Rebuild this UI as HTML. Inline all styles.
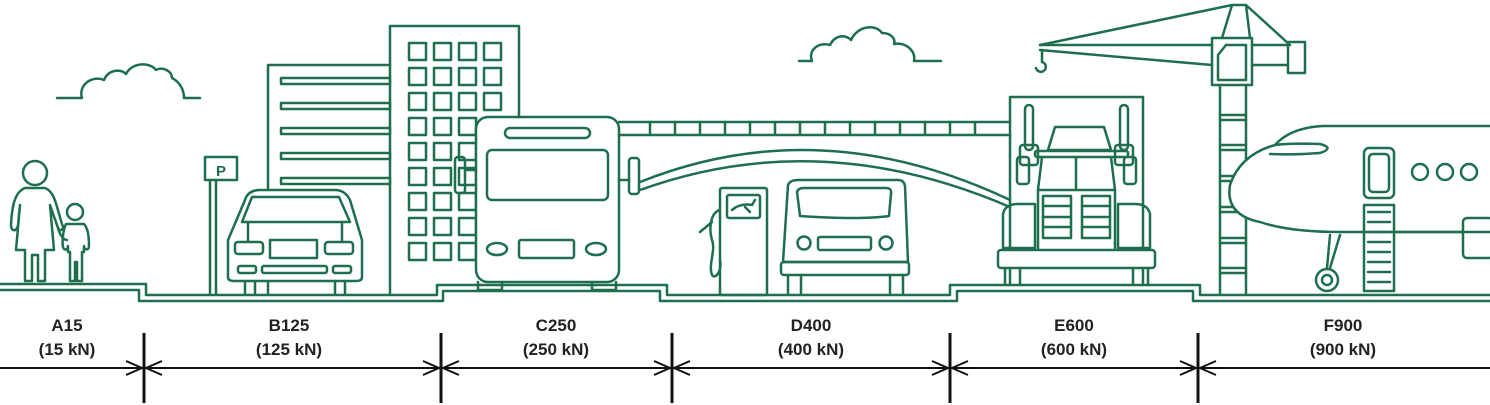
<!DOCTYPE html>
<html><head><meta charset="utf-8"><style>
html,body{margin:0;padding:0;background:#fff;width:1490px;height:405px;overflow:hidden}
svg{display:block}
.t{font-family:"Liberation Sans",sans-serif;font-weight:bold;font-size:17px;fill:#222;text-anchor:middle}
</style></head><body>
<svg width="1490" height="405" viewBox="0 0 1490 405" xmlns="http://www.w3.org/2000/svg">
<g fill="none" stroke="#1d6f4e" stroke-width="2.5" stroke-linejoin="round" stroke-linecap="round">
<!-- ground -->
<path d="M0 284H146V295H437V285H667V295H950V285H1200V295H1490"/>
<path d="M0 290H139V301H443V291H660V301H957V291H1193V301H1490"/>
<!-- clouds -->
<path d="M57 98H82C78 85 92 75 104 80C108 70 120 68 126 74C132 62 150 62 156 70C164 66 172 72 172 78C180 82 184 90 184 98H200"/>
<path d="M799 61H812C808 50 818 42 830 45C835 35 845 34 851 40C858 25 876 24 882 33C890 33 896 38 894 44C905 42 916 50 914 61H941"/>
<!-- woman -->
<circle cx="35" cy="173" r="12"/>
<path d="M25 188C15 192 12 205 11 225C11 232 17 232 18 225L20 205L16 250H25V281H32V255H38V281H45V250H54L50 205L58 228C60 232 65 230 62 224C56 205 55 192 45 188Z"/>
<!-- child -->
<circle cx="75" cy="212" r="8"/>
<path d="M66 224C63 230 62 242 63 247C64 251 68 250 68 246V252H70V281H75V262H77V281H82V252H84V246C84 250 89 251 89 246C89 238 88 228 84 224Z"/>
<path d="M58 228C60 236 64 240 67 240"/>
<!-- P sign -->
<rect x="205" y="157" width="32" height="23"/>
<text x="221" y="176" font-family="Liberation Sans,sans-serif" font-size="15" font-weight="bold" fill="#1d6f4e" stroke="none" text-anchor="middle">P</text>
<path d="M210 180V295M216 180V295"/>
<!-- building 1 -->
<path d="M268 295V65H390"/>
<g>
<rect x="281" y="78" width="109" height="6"/><rect x="281" y="103" width="109" height="6"/>
<rect x="281" y="128" width="109" height="6"/><rect x="281" y="153" width="109" height="6"/>
<rect x="281" y="178" width="109" height="6"/>
</g>
<!-- building 2 -->
<path d="M390 295V26H519V117"/>
<g>
<rect x="409" y="43" width="17" height="17"/><rect x="434" y="43" width="17" height="17"/><rect x="459" y="43" width="17" height="17"/><rect x="484" y="43" width="17" height="17"/>
<rect x="409" y="68" width="17" height="17"/><rect x="434" y="68" width="17" height="17"/><rect x="459" y="68" width="17" height="17"/><rect x="484" y="68" width="17" height="17"/>
<rect x="409" y="93" width="17" height="17"/><rect x="434" y="93" width="17" height="17"/><rect x="459" y="93" width="17" height="17"/><rect x="484" y="93" width="17" height="17"/>
<rect x="409" y="118" width="17" height="17"/><rect x="434" y="118" width="17" height="17"/><rect x="459" y="118" width="17" height="17"/>
<rect x="409" y="143" width="17" height="17"/><rect x="434" y="143" width="17" height="17"/><rect x="459" y="143" width="17" height="17"/>
<rect x="409" y="168" width="17" height="17"/><rect x="434" y="168" width="17" height="17"/><rect x="459" y="168" width="17" height="17"/>
<rect x="409" y="193" width="17" height="17"/><rect x="434" y="193" width="17" height="17"/><rect x="459" y="193" width="17" height="17"/>
<rect x="409" y="218" width="17" height="17"/><rect x="434" y="218" width="17" height="17"/><rect x="459" y="218" width="17" height="17"/>
<rect x="409" y="243" width="17" height="17"/><rect x="434" y="243" width="17" height="17"/><rect x="459" y="243" width="17" height="17"/>
</g>
<!-- car B -->
<path d="M245 200Q248 190 260 190H335Q345 190 350 200L362 240V277Q362 281 356 281H234Q228 281 228 277V240Z" fill="#fff"/>
<path d="M242 222L252 197H339L350 222Z"/>
<path d="M248 222V240M342 222V240"/>
<rect x="235" y="242" width="28" height="12" rx="3"/><rect x="270" y="240" width="47" height="18"/><rect x="325" y="242" width="28" height="12" rx="3"/>
<rect x="238" y="266" width="18" height="7" rx="2"/><rect x="262" y="266" width="65" height="7" rx="2"/><rect x="333" y="266" width="18" height="7" rx="2"/>
<path d="M245 281V295M255 281V295M335 281V295M345 281V295"/>
<!-- bridge deck -->
<path d="M619 122H1010M619 135H1010"/>
<path d="M650 122V135M675 122V135M700 122V135M725 122V135M750 122V135M775 122V135M800 122V135M825 122V135M850 122V135M875 122V135M900 122V135M925 122V135M950 122V135M975 122V135"/>
<path d="M640 182Q820 110 1010 200M640 190Q820 125 1010 207"/>
<!-- bus -->
<rect x="476" y="117" width="143" height="165" rx="12" fill="#fff"/>
<rect x="505" y="128" width="85" height="10" rx="5"/>
<rect x="487" y="150" width="121" height="50" rx="5"/>
<ellipse cx="497" cy="249" rx="10" ry="6"/><ellipse cx="596" cy="249" rx="10" ry="6"/>
<rect x="519" y="240" width="55" height="18" rx="2"/>
<path d="M478 282V290H502V282M592 282V290H616V282"/>
<rect x="455" y="157" width="10" height="36" rx="3"/><rect x="629" y="158" width="10" height="36" rx="3"/>
<path d="M465 170H476M619 180H629"/>
<!-- fuel pump -->
<rect x="720" y="188" width="47" height="107" rx="2"/>
<rect x="727" y="195" width="33" height="23" rx="2"/>
<path d="M732 210Q740 203 752 205L755 200M745 207L750 212"/>
<path d="M720 210C712 212 708 225 712 240C716 250 708 265 712 275C716 280 722 270 720 260"/>
<path d="M712 222L700 232"/>
<!-- van D -->
<path d="M788 185Q790 180 798 180H898Q904 180 905 186L908 262H783Z" fill="#fff"/>
<path d="M797 192Q798 188 804 188H886Q892 188 891 194L889 216Q860 220 800 216Z"/>
<circle cx="804" cy="243" r="6.5"/><circle cx="886" cy="243" r="6.5"/>
<rect x="818" y="237" width="53" height="13" rx="2"/>
<rect x="781" y="262" width="128" height="13" rx="3"/>
<path d="M788 275V295M801 275V295M890 275V295M903 275V295"/>
<!-- truck box -->
<path d="M1010 285V97H1143V285"/>
<!-- truck -->
<rect x="1025" y="105" width="8" height="45" rx="4"/><rect x="1120" y="105" width="8" height="45" rx="4"/>
<rect x="1020" y="145" width="18" height="20" rx="3"/><rect x="1115" y="145" width="18" height="20" rx="3"/>
<rect x="1017" y="157" width="12" height="27" rx="3"/><rect x="1124" y="157" width="12" height="27" rx="3"/>
<path d="M1048 150L1055 127H1104L1111 150Z"/>
<rect x="1035" y="151" width="93" height="6" rx="2"/>
<path d="M1042 157L1038 190H1115L1111 157M1076 157V188"/>
<rect x="1043" y="196" width="28" height="42"/><rect x="1082" y="196" width="28" height="42"/>
<path d="M1043 206H1071M1043 217H1071M1043 227H1071M1082 206H1110M1082 217H1110M1082 227H1110"/>
<path d="M1038 190V248M1115 190V248"/>
<path d="M1003 230V214Q1005 204 1018 204H1035V248H1003Z"/>
<path d="M1150 230V214Q1148 204 1135 204H1118V248H1150Z"/>
<rect x="998" y="250" width="157" height="18" rx="3" fill="#fff"/>
<path d="M1005 268V285M1020 268V285M1133 268V285M1148 268V285"/>
<!-- crane -->
<path d="M1220 295V85M1246 295V85"/>
<path d="M1220 115H1246M1220 120H1246M1220 145H1246M1220 150H1246M1220 176H1246M1220 181H1246M1220 207H1246M1220 212H1246M1220 238H1246M1220 243H1246M1220 268H1246M1220 273H1246"/>
<rect x="1212" y="38" width="40" height="47"/>
<path d="M1218 55L1226 45H1246V80H1218Z"/>
<path d="M1040 45L1232 5H1246L1290 45M1232 5L1222 38M1246 5L1250 38"/>
<path d="M1040 45H1212M1040 50L1212 65M1252 45H1288M1252 65H1288"/>
<rect x="1288" y="42" width="17" height="31"/>
<path d="M1042 50V62A5 5 0 1 1 1036 68"/>
<!-- plane -->
<path d="M1490 126H1322Q1290 128 1275 145Q1240 155 1230 185Q1225 215 1260 222Q1290 232 1340 232H1490" fill="#fff"/>
<path d="M1275 145Q1290 143 1320 144Q1335 148 1320 153Q1295 155 1270 154"/>
<circle cx="1420" cy="172" r="8"/><circle cx="1445" cy="172" r="8"/><circle cx="1469" cy="172" r="8"/>
<rect x="1364" y="148" width="30" height="50" rx="5"/><rect x="1369" y="154" width="20" height="38" rx="4"/>
<rect x="1364" y="205" width="30" height="86"/>
<path d="M1368 212H1390M1368 222H1390M1368 232H1390M1368 242H1390M1368 252H1390M1368 262H1390M1368 272H1390M1368 282H1390"/>
<path d="M1394 232H1463"/>
<rect x="1463" y="218" width="30" height="40" rx="4"/>
<path d="M1330 235L1327 268M1340 235L1330 268"/>
<circle cx="1327" cy="280" r="11"/><circle cx="1327" cy="280" r="5"/>
</g>
<!-- dimension line -->
<g stroke="#111" fill="none">
<path d="M0 368H1490" stroke-width="2"/>
<path d="M144 333V403M441 333V403M672 333V403M950 333V403M1198 333V403" stroke-width="3"/>
<path d="M126 361L142 368L126 375M162 361L146 368L162 375M423 361L439 368L423 375M459 361L443 368L459 375M654 361L670 368L654 375M690 361L674 368L690 375M932 361L948 368L932 375M968 361L952 368L968 375M1180 361L1196 368L1180 375M1216 361L1200 368L1216 375" stroke-width="2"/>
</g>
<text class="t" x="67" y="331">A15</text><text class="t" x="67" y="355">(15 kN)</text>
<text class="t" x="289" y="331">B125</text><text class="t" x="289" y="355">(125 kN)</text>
<text class="t" x="556" y="331">C250</text><text class="t" x="556" y="355">(250 kN)</text>
<text class="t" x="811" y="331">D400</text><text class="t" x="811" y="355">(400 kN)</text>
<text class="t" x="1074" y="331">E600</text><text class="t" x="1074" y="355">(600 kN)</text>
<text class="t" x="1343" y="331">F900</text><text class="t" x="1343" y="355">(900 kN)</text>
</svg>
</body></html>
